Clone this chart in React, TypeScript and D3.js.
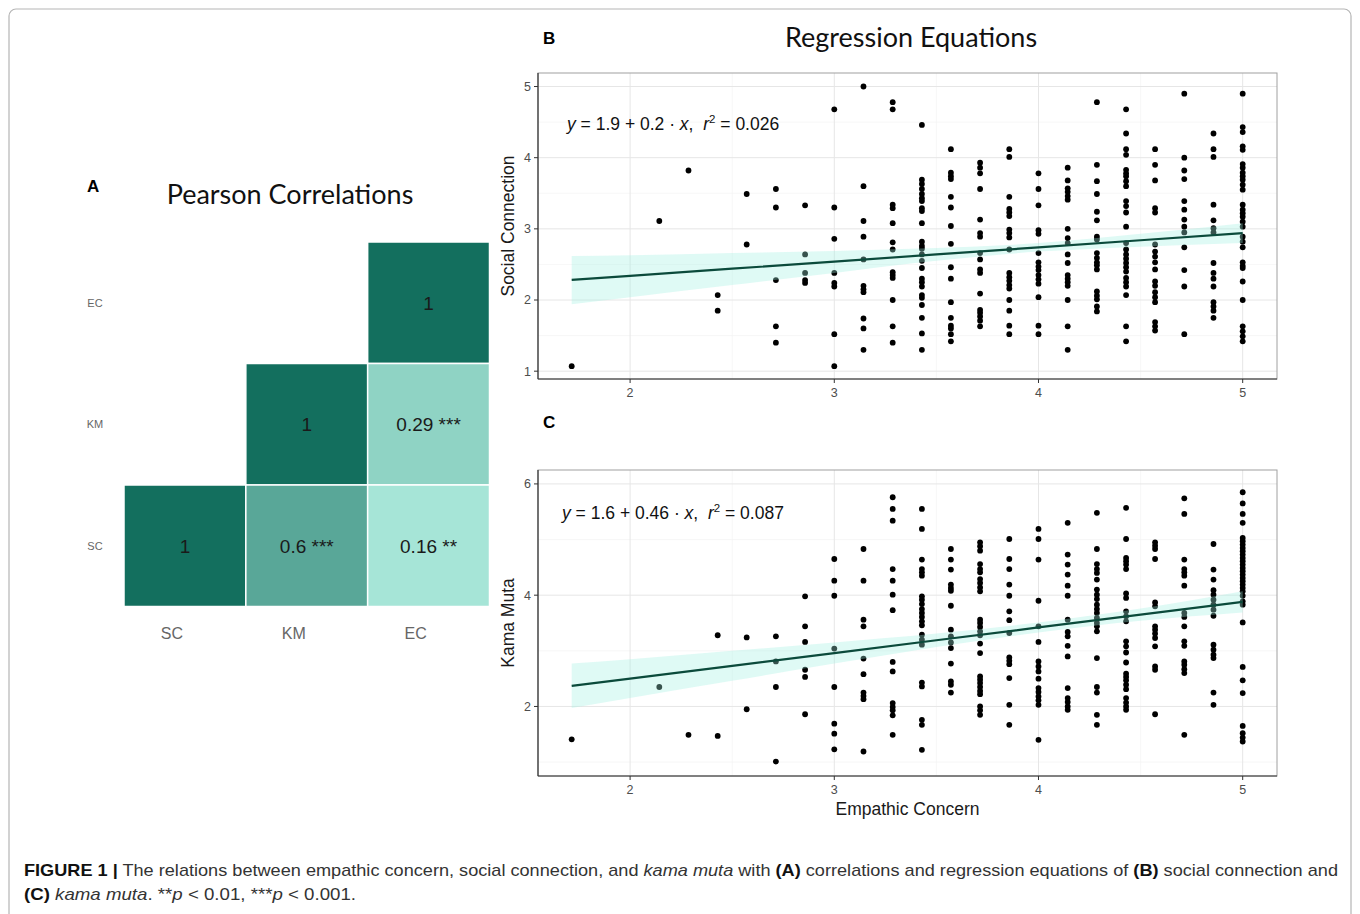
import React from 'react';
import * as d3 from 'd3';

// ---------- DATA ----------
const ecLevels = [1.714, 2.143, 2.286, 2.429, 2.571, 2.714, 2.857, 3.0, 3.143, 3.286, 3.429, 3.571, 3.714, 3.857, 4.0, 4.143, 4.286, 4.429, 4.571, 4.714, 4.857, 5.0];

const socialConnection: number[][] = [
  [1.07],
  [3.11],
  [3.82],
  [2.07, 1.85],
  [3.49, 2.78],
  [3.56, 3.30, 2.28, 1.63, 1.40],
  [3.33, 2.64, 2.38, 2.28, 2.24],
  [4.68, 3.30, 2.86, 2.38, 2.24, 2.19, 1.52, 1.07],
  [5.0, 3.60, 3.11, 2.89, 2.57, 2.20, 2.15, 2.11, 1.74, 1.60, 1.30],
  [4.78, 4.68, 3.34, 3.29, 3.08, 2.81, 2.71, 2.39, 2.35, 2.31, 2.0, 1.63, 1.40],
  [4.46, 3.69, 3.63, 3.56, 3.49, 3.43, 3.39, 3.29, 3.25, 3.08, 2.82, 2.76, 2.72, 2.64, 2.55, 2.45, 2.30, 2.25, 2.19, 2.07, 2.03, 1.93, 1.75, 1.53, 1.30],
  [4.12, 3.79, 3.74, 3.70, 3.45, 3.30, 3.04, 2.79, 2.46, 2.30, 1.97, 1.75, 1.64, 1.60, 1.52, 1.42],
  [3.93, 3.86, 3.78, 3.56, 3.13, 2.94, 2.89, 2.66, 2.57, 2.43, 2.38, 2.09, 1.86, 1.82, 1.77, 1.71, 1.63],
  [4.12, 4.01, 3.45, 3.28, 3.23, 3.18, 2.99, 2.94, 2.88, 2.71, 2.38, 2.32, 2.27, 2.21, 2.16, 2.00, 1.85, 1.64, 1.52],
  [3.78, 3.56, 3.33, 2.98, 2.93, 2.66, 2.53, 2.47, 2.42, 2.35, 2.29, 2.23, 2.04, 1.64, 1.52],
  [3.86, 3.68, 3.57, 3.52, 3.46, 3.41, 3.00, 2.87, 2.80, 2.64, 2.52, 2.35, 2.30, 2.25, 2.20, 2.00, 1.63, 1.30],
  [4.78, 3.90, 3.67, 3.49, 3.24, 3.12, 2.89, 2.85, 2.66, 2.59, 2.53, 2.49, 2.43, 2.12, 2.06, 2.01, 1.91, 1.84],
  [4.68, 4.34, 4.12, 4.04, 3.83, 3.78, 3.74, 3.67, 3.60, 3.39, 3.32, 3.23, 3.03, 2.80, 2.71, 2.64, 2.58, 2.52, 2.46, 2.40, 2.31, 2.25, 2.19, 2.07, 1.63, 1.42],
  [4.12, 3.90, 3.68, 3.29, 3.23, 2.78, 2.68, 2.61, 2.53, 2.43, 2.26, 2.20, 2.11, 2.04, 1.97, 1.69, 1.63, 1.57],
  [4.90, 4.00, 3.82, 3.70, 3.39, 3.27, 3.13, 3.03, 2.95, 2.74, 2.42, 2.19, 1.52],
  [4.34, 4.12, 4.01, 3.34, 3.12, 3.01, 2.95, 2.52, 2.38, 2.30, 2.19, 1.97, 1.91, 1.85, 1.75],
  [4.90, 4.43, 4.36, 4.16, 4.11, 3.91, 3.86, 3.79, 3.74, 3.69, 3.62, 3.55, 3.34, 3.27, 3.22, 3.17, 3.10, 3.03, 2.89, 2.82, 2.74, 2.53, 2.48, 2.45, 2.26, 2.00, 1.63, 1.56, 1.49, 1.42],
];

const kamaMuta: number[][] = [
  [1.41],
  [2.35],
  [1.49],
  [3.28, 1.47],
  [3.24, 1.95],
  [3.26, 2.81, 2.35, 1.01],
  [3.98, 3.44, 3.16, 2.66, 2.53, 1.86],
  [4.65, 4.26, 3.99, 3.04, 2.35, 1.69, 1.51, 1.23],
  [4.83, 4.26, 3.56, 3.44, 2.86, 2.58, 2.25, 2.19, 2.13, 1.19],
  [5.76, 5.55, 5.34, 4.47, 4.26, 4.01, 3.73, 2.80, 2.63, 2.06, 1.99, 1.93, 1.84, 1.49],
  [5.55, 5.19, 4.64, 4.47, 4.41, 4.35, 3.98, 3.92, 3.84, 3.75, 3.68, 3.61, 3.53, 3.46, 3.29, 3.20, 3.11, 2.43, 2.36, 1.76, 1.67, 1.22],
  [4.83, 4.64, 4.46, 4.19, 4.13, 4.08, 3.81, 3.38, 3.26, 3.15, 3.05, 2.77, 2.45, 2.39, 2.25],
  [4.95, 4.88, 4.80, 4.56, 4.47, 4.41, 4.29, 4.22, 4.14, 4.07, 3.56, 3.50, 3.43, 3.35, 3.28, 3.13, 2.96, 2.54, 2.48, 2.42, 2.35, 2.28, 2.22, 2.00, 1.93, 1.85],
  [5.01, 4.65, 4.47, 4.19, 3.99, 3.71, 3.55, 3.32, 2.88, 2.82, 2.76, 2.51, 2.03, 1.67],
  [5.19, 5.01, 4.64, 3.90, 3.44, 3.16, 2.81, 2.72, 2.63, 2.50, 2.33, 2.26, 2.18, 2.11, 2.03, 1.40],
  [5.30, 4.73, 4.55, 4.37, 4.17, 3.99, 3.56, 3.34, 3.26, 3.09, 2.90, 2.33, 2.15, 2.08, 2.00, 1.94],
  [5.48, 4.83, 4.56, 4.47, 4.40, 4.28, 4.10, 4.01, 3.93, 3.83, 3.75, 3.68, 3.59, 3.50, 3.44, 3.35, 2.87, 2.35, 2.25, 1.85, 1.67],
  [5.57, 5.01, 4.67, 4.61, 4.55, 4.47, 4.03, 3.95, 3.71, 3.62, 3.53, 3.17, 3.08, 2.97, 2.79, 2.59, 2.53, 2.47, 2.39, 2.31, 2.15, 2.07, 2.00, 1.94],
  [4.95, 4.89, 4.83, 4.65, 3.87, 3.80, 3.44, 3.38, 3.31, 3.23, 3.08, 2.72, 2.66, 1.86],
  [5.74, 5.46, 4.64, 4.47, 4.41, 4.35, 4.17, 3.68, 3.61, 3.44, 3.17, 3.09, 2.81, 2.75, 2.67, 2.60, 1.49],
  [4.92, 4.46, 4.28, 4.09, 4.01, 3.92, 3.83, 3.74, 3.63, 3.11, 3.02, 2.93, 2.87, 2.25, 2.03],
  [5.85, 5.65, 5.46, 5.30, 5.03, 4.97, 4.91, 4.85, 4.79, 4.73, 4.67, 4.61, 4.55, 4.49, 4.43, 4.37, 4.31, 4.25, 4.19, 4.13, 4.07, 3.99, 3.89, 3.83, 3.51, 2.71, 2.47, 2.24, 1.65, 1.52, 1.44, 1.37],
];

// regression fit & confidence band
const bandX = [1.714, 2, 2.5, 3, 3.5, 4, 4.5, 5];
const fitSC = [2.283, 2.34, 2.44, 2.54, 2.64, 2.74, 2.84, 2.94];
const lowerSC = [1.94, 2.04, 2.21, 2.38, 2.55, 2.68, 2.75, 2.80];
const upperSC = [2.62, 2.63, 2.66, 2.69, 2.73, 2.80, 2.93, 3.08];
const fitKM = [2.37, 2.50, 2.73, 2.96, 3.19, 3.42, 3.65, 3.88];
const lowerKM = [1.97, 2.15, 2.46, 2.77, 3.07, 3.33, 3.54, 3.69];
const upperKM = [2.77, 2.85, 3.00, 3.15, 3.31, 3.51, 3.76, 4.07];

const xTicks = [2, 3, 4, 5];
const xMinor = [2.5, 3.5, 4.5];
const scTicks = [1, 2, 3, 4, 5];
const scMinor = [1.5, 2.5, 3.5, 4.5];
const kmTicks = [2, 4, 6];
const kmMinor = [1, 3, 5];

// correlations
const corrVars = ['SC', 'KM', 'EC'];
const corrRowOrder = ['EC', 'KM', 'SC'];
const corrRow = ['EC', 'KM', 'KM', 'SC', 'SC', 'SC'];
const corrCol = ['EC', 'KM', 'EC', 'SC', 'KM', 'EC'];
const corrValue = [1, 1, 0.29, 1, 0.6, 0.16];
const corrStars = ['', '', '***', '', '***', '**'];

// ---------- LAYOUT ----------
const W = 1360;
const H = 914;
const FONT = '"Liberation Sans", Arial, sans-serif';
const TITLE_FONT = 'Lato, "Open Sans", sans-serif';

const xScale = d3.scaleLinear().domain([1.549, 5.168]).range([538, 1277]);

type PanelProps = {
  top: number;
  bottom: number;
  yDomain: [number, number];
  values: number[][];
  ticks: number[];
  minor: number[];
  fit: number[];
  lower: number[];
  upper: number[];
  yTitle: string;
  eq: { a: string; b: string; r2: string; x: number; y: number };
};

function ScatterPanel(p: PanelProps) {
  const left = 538, right = 1277;
  const y = d3.scaleLinear().domain(p.yDomain).range([p.bottom, p.top]);
  const pts: { x: number; y: number }[] = [];
  ecLevels.forEach((ec, i) => p.values[i].forEach((v) => pts.push({ x: ec, y: v })));
  const area = d3
    .area<number>()
    .x((_, i) => xScale(bandX[i]))
    .y0((_, i) => y(p.lower[i]))
    .y1((_, i) => y(p.upper[i]))
    .curve(d3.curveMonotoneX);
  const line = d3
    .line<number>()
    .x((_, i) => xScale(bandX[i]))
    .y((d) => y(d));
  return (
    <g>
      <rect x={left} y={p.top} width={right - left} height={p.bottom - p.top} fill="#fff" />
      {xMinor.map((t) => (
        <line key={'xm' + t} x1={xScale(t)} x2={xScale(t)} y1={p.top} y2={p.bottom} stroke="#f3f3f3" strokeWidth={0.7} />
      ))}
      {p.minor.map((t) => (
        <line key={'ym' + t} x1={left} x2={right} y1={y(t)} y2={y(t)} stroke="#f3f3f3" strokeWidth={0.7} />
      ))}
      {xTicks.map((t) => (
        <line key={'xg' + t} x1={xScale(t)} x2={xScale(t)} y1={p.top} y2={p.bottom} stroke="#e6e6e6" strokeWidth={1} />
      ))}
      {p.ticks.map((t) => (
        <line key={'yg' + t} x1={left} x2={right} y1={y(t)} y2={y(t)} stroke="#e6e6e6" strokeWidth={1} />
      ))}
      {pts.map((d, i) => (
        <circle key={i} cx={xScale(d.x)} cy={y(d.y)} r={2.9} fill="#000" />
      ))}
      <path d={area(p.fit) || ''} fill="rgb(160,240,226)" fillOpacity={0.34} />
      <path d={line(p.fit) || ''} fill="none" stroke="#0b4a3b" strokeWidth={2.2} />
      <rect x={left} y={p.top} width={right - left} height={p.bottom - p.top} fill="none" stroke="#a0a0a0" strokeWidth={1} />
      <line x1={left} x2={left} y1={p.top} y2={p.bottom} stroke="#333" strokeWidth={1.2} />
      <line x1={left} x2={right} y1={p.bottom} y2={p.bottom} stroke="#333" strokeWidth={1.2} />
      {p.ticks.map((t) => (
        <g key={'yt' + t}>
          <line x1={left - 4} x2={left} y1={y(t)} y2={y(t)} stroke="#333" />
          <text x={left - 7} y={y(t)} dy="0.35em" textAnchor="end" fontSize={12.5} fill="#4d4d4d" fontFamily={FONT}>
            {t}
          </text>
        </g>
      ))}
      {xTicks.map((t) => (
        <g key={'xt' + t}>
          <line x1={xScale(t)} x2={xScale(t)} y1={p.bottom} y2={p.bottom + 4} stroke="#333" />
          <text x={xScale(t)} y={p.bottom + 18} textAnchor="middle" fontSize={12.5} fill="#4d4d4d" fontFamily={FONT}>
            {t}
          </text>
        </g>
      ))}
      <text
        transform={`translate(${left - 24},${(p.top + p.bottom) / 2}) rotate(-90)`}
        textAnchor="middle"
        fontSize={17.5}
        fill="#1a1a1a"
        fontFamily={FONT}
      >
        {p.yTitle}
      </text>
      <text x={p.eq.x} y={p.eq.y} fontSize={17.5} fill="#111" fontFamily={FONT}>
        <tspan fontStyle="italic">y</tspan>
        <tspan>{` = ${p.eq.a} + ${p.eq.b} · `}</tspan>
        <tspan fontStyle="italic">x</tspan>
        <tspan>{',\u00a0\u00a0'}</tspan>
        <tspan fontStyle="italic">r</tspan>
        <tspan dy={-7} fontSize={11.5}>2</tspan>
        <tspan dy={7}>{` = ${p.eq.r2}`}</tspan>
      </text>
    </g>
  );
}

function Heatmap() {
  const x = d3.scaleBand<string>().domain(corrVars).range([124, 489.5]);
  const y = d3.scaleBand<string>().domain(corrRowOrder).range([242, 606.5]);
  const color = d3.scaleLinear<string>().domain([0, 1]).range(['rgb(194,252,238)', 'rgb(19,111,94)']).interpolate(d3.interpolateRgb);
  return (
    <g>
      {corrValue.map((v, i) => {
        const cx = x(corrCol[i])!;
        const cy = y(corrRow[i])!;
        return (
          <g key={i}>
            <rect x={cx} y={cy} width={x.bandwidth()} height={y.bandwidth()} fill={color(v)} stroke="#fff" strokeWidth={1.5} />
            <text
              x={cx + x.bandwidth() / 2}
              y={cy + y.bandwidth() / 2}
              dy="0.36em"
              textAnchor="middle"
              fontSize={19}
              fill="#1a1a1a"
              fontFamily={FONT}
            >
              {corrStars[i] ? `${v} ${corrStars[i]}` : `${v}`}
            </text>
          </g>
        );
      })}
      {corrRowOrder.map((r) => (
        <text key={'rl' + r} x={95} y={y(r)! + y.bandwidth() / 2} dy="0.35em" textAnchor="middle" fontSize={11} fill="#666" fontFamily={FONT}>
          {r}
        </text>
      ))}
      {corrVars.map((c) => (
        <text key={'cl' + c} x={x(c)! + x.bandwidth() / 2 - 13} y={639} textAnchor="middle" fontSize={16} fill="#666" fontFamily={FONT}>
          {c}
        </text>
      ))}
      <text x={290} y={204} textAnchor="middle" fontSize={27} fill="#111" fontFamily={TITLE_FONT}>
        Pearson Correlations
      </text>
    </g>
  );
}

export default function App() {
  return (
    <svg width={W} height={H} style={{ position: 'absolute', left: 0, top: 0, background: '#fff' }}>
      <rect x={0} y={0} width={W} height={H} fill="#fff" />
      <rect x={9} y={9} width={1342} height={912} rx={7} fill="none" stroke="#b5b5b5" strokeWidth={1.2} />
      <text x={87} y={192} fontSize={17} fontWeight="bold" fontFamily={FONT} fill="#000">A</text>
      <text x={543} y={44} fontSize={17} fontWeight="bold" fontFamily={FONT} fill="#000">B</text>
      <text x={543} y={428} fontSize={17} fontWeight="bold" fontFamily={FONT} fill="#000">C</text>
      <text x={911} y={47} textAnchor="middle" fontSize={27} fill="#111" fontFamily={TITLE_FONT}>
        Regression Equations
      </text>
      <Heatmap />
      <ScatterPanel
        top={73}
        bottom={379}
        yDomain={[0.89, 5.19]}
        values={socialConnection}
        ticks={scTicks}
        minor={scMinor}
        fit={fitSC}
        lower={lowerSC}
        upper={upperSC}
        yTitle="Social Connection"
        eq={{ a: '1.9', b: '0.2', r2: '0.026', x: 567, y: 130 }}
      />
      <ScatterPanel
        top={470}
        bottom={776}
        yDomain={[0.75, 6.25]}
        values={kamaMuta}
        ticks={kmTicks}
        minor={kmMinor}
        fit={fitKM}
        lower={lowerKM}
        upper={upperKM}
        yTitle="Kama Muta"
        eq={{ a: '1.6', b: '0.46', r2: '0.087', x: 562, y: 519 }}
      />
      <text x={907.5} y={815} textAnchor="middle" fontSize={17.5} fill="#1a1a1a" fontFamily={FONT}>
        Empathic Concern
      </text>
      <text x={24} y={876} fontSize={17} fill="#333" fontFamily={FONT} textLength={1314} lengthAdjust="spacingAndGlyphs">
        <tspan fontWeight="bold" fill="#111">FIGURE 1 |</tspan>
        <tspan> The relations between empathic concern, social connection, and </tspan>
        <tspan fontStyle="italic">kama muta</tspan>
        <tspan> with </tspan>
        <tspan fontWeight="bold" fill="#111">(A)</tspan>
        <tspan> correlations and regression equations of </tspan>
        <tspan fontWeight="bold" fill="#111">(B)</tspan>
        <tspan> social connection and</tspan>
      </text>
      <text x={24} y={900} fontSize={17} fill="#333" fontFamily={FONT} textLength={332} lengthAdjust="spacingAndGlyphs">
        <tspan fontWeight="bold" fill="#111">(C)</tspan>
        <tspan> </tspan>
        <tspan fontStyle="italic">kama muta</tspan>
        <tspan>. **</tspan>
        <tspan fontStyle="italic">p</tspan>
        <tspan> &lt; 0.01, ***</tspan>
        <tspan fontStyle="italic">p</tspan>
        <tspan> &lt; 0.001.</tspan>
      </text>
    </svg>
  );
}
